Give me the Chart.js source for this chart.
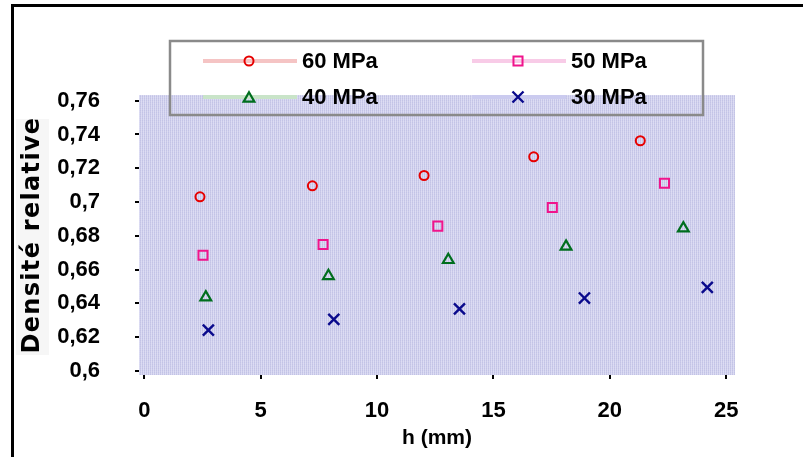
<!DOCTYPE html>
<html><head><meta charset="utf-8">
<script src="https://cdn.jsdelivr.net/npm/chart.js@4"></script>
<style>html,body{margin:0;padding:0;background:#fff;overflow:hidden}canvas{display:block}</style>
</head><body>
<canvas id="c" width="803" height="457"></canvas>
<script>
// ---- data ----
const seriesNames = ['60 MPa', '50 MPa', '40 MPa', '30 MPa'];
const h60 = [2.39, 7.22, 12.02, 16.73, 21.31];
const d60 = [0.7031, 0.7096, 0.7157, 0.7268, 0.7363];
const h50 = [2.52, 7.68, 12.61, 17.53, 22.35];
const d50 = [0.6684, 0.6748, 0.6857, 0.6968, 0.7111];
const h40 = [2.64, 7.91, 13.06, 18.12, 23.16];
const d40 = [0.6435, 0.6562, 0.6657, 0.6736, 0.6844];
const h30 = [2.75, 8.14, 13.54, 18.91, 24.19];
const d30 = [0.6241, 0.6305, 0.6367, 0.6431, 0.6494];
const xTicks = [0, 5, 10, 15, 20, 25];
const yTicks = [0.6, 0.62, 0.64, 0.66, 0.68, 0.7, 0.72, 0.74, 0.76];
const yTickLabels = ['0,6', '0,62', '0,64', '0,66', '0,68', '0,7', '0,72', '0,74', '0,76'];
const xTitle = 'h (mm)';
const yTitle = 'Densité relative';

const pts = (xs, ys) => xs.map((x, i) => ({x: x, y: ys[i]}));

// ---- styles ----
const styles = [
  {color: '#e60000', style: 'circle', r: 4.5, bw: 2, line: '#f5c4c4'},
  {color: '#f0148c', style: 'rect', r: 6.4, bw: 2, line: '#f8cbe7'},
  {color: '#006e1e', style: 'triangle', r: 6.2, bw: 2.2, line: '#c9e4c9'},
  {color: '#0a0a8c', style: 'crossRot', r: 7.8, bw: 2.4, line: '#cbcbef'}
];
const seriesData = [pts(h60, d60), pts(h50, d50), pts(h40, d40), pts(h30, d30)];

// background pattern
const pc = document.createElement('canvas');
pc.width = 2; pc.height = 2;
const pctx = pc.getContext('2d');
pctx.fillStyle = '#c3c3e6'; pctx.fillRect(0, 0, 1, 2);
pctx.fillStyle = '#d9d9f2'; pctx.fillRect(1, 0, 1, 2);
pctx.fillStyle = 'rgba(255,255,255,0.12)'; pctx.fillRect(0, 1, 2, 1);

const bgPlugin = {
  id: 'bg',
  beforeDraw(chart) {
    const ctx = chart.ctx, a = chart.chartArea;
    ctx.save();
    ctx.fillStyle = '#fff';
    ctx.fillRect(0, 0, chart.width, chart.height);
    // outer frame (top & left)
    ctx.fillStyle = '#000';
    ctx.fillRect(11, 4, chart.width - 11, 3);
    ctx.fillRect(11, 4, 3, chart.height - 4);
    // light box behind y title
    ctx.fillStyle = '#f6f6f6';
    ctx.fillRect(16, 119, 33, 236);
    // plot area
    ctx.fillStyle = ctx.createPattern(pc, 'repeat');
    ctx.fillRect(a.left, a.top, a.right - a.left, a.bottom - a.top);
    ctx.restore();
  }
};

const legendPlugin = {
  id: 'customLegend',
  afterDatasetsDraw(chart) {
    const ctx = chart.ctx;
    ctx.save();
    ctx.strokeStyle = '#8a8a8a';
    ctx.lineWidth = 2.5;
    ctx.strokeRect(170, 41, 533, 74);
    const cols = [{l0: 203, l1: 297, m: 249, t: 302}, {l0: 472, l1: 566, m: 518, t: 571}];
    const rows = [61, 97];
    chart.data.datasets.forEach((ds, i) => {
      const c = cols[i % 2], y = rows[Math.floor(i / 2)], s = styles[i];
      ctx.strokeStyle = s.line;
      ctx.lineWidth = 4;
      ctx.beginPath(); ctx.moveTo(c.l0, y); ctx.lineTo(c.l1, y); ctx.stroke();
      ctx.strokeStyle = s.color; ctx.fillStyle = 'rgba(0,0,0,0)';
      ctx.lineWidth = s.bw;
      const yy = s.style === 'triangle' ? y + 1.5 : y;
      Chart.helpers.drawPoint(ctx, {pointStyle: s.style, radius: s.r, borderWidth: s.bw, rotation: 0}, c.m, yy);
      ctx.fillStyle = '#000';
      ctx.font = 'bold 22px "Liberation Sans", Arial, sans-serif';
      ctx.textBaseline = 'middle';
      ctx.textAlign = 'left';
      ctx.fillText(ds.label, c.t, y + 1);
    });
    ctx.restore();
  }
};

new Chart(document.getElementById('c'), {
  type: 'scatter',
  data: {
    datasets: seriesNames.map((n, i) => ({
      label: n,
      data: seriesData[i],
      showLine: false,
      pointStyle: styles[i].style,
      pointRadius: styles[i].r,
      pointHoverRadius: styles[i].r,
      pointBorderWidth: styles[i].bw,
      borderColor: styles[i].color,
      backgroundColor: 'rgba(0,0,0,0)',
      pointBackgroundColor: 'rgba(0,0,0,0)'
    }))
  },
  options: {
    responsive: false,
    animation: false,
    devicePixelRatio: 1,
    layout: {padding: {left: 0, top: 95, right: 68, bottom: 0}},
    plugins: {legend: {display: false}, tooltip: {enabled: false}},
    scales: {
      x: {
        type: 'linear',
        min: -0.23, max: 25.38,
        afterBuildTicks: (sc) => { sc.ticks = xTicks.map(v => ({value: v})); },
        afterFit: (sc) => { sc.height = 82; },
        border: {display: false},
        grid: {drawOnChartArea: false, drawTicks: true, tickLength: 4, color: '#000', lineWidth: 2},
        ticks: {color: '#000', padding: 19, maxRotation: 0,
          font: {family: '"Liberation Sans", Arial, sans-serif', size: 22, weight: 'bold'}},
        title: {display: true, text: xTitle, color: '#000', padding: {top: 0, bottom: 6},
          font: {family: '"Liberation Sans", Arial, sans-serif', size: 21, weight: 'bold'}}
      },
      y: {
        type: 'linear',
        min: 0.5975, max: 0.7634,
        afterBuildTicks: (sc) => { sc.ticks = yTicks.map(v => ({value: v})); },
        afterFit: (sc) => {
          sc.width = 139;
          if (!sc._spacedTitle) {
            const orig = sc.drawTitle.bind(sc);
            sc.drawTitle = function () {
              const ctx = this.ctx;
              const prev = ctx.letterSpacing;
              ctx.letterSpacing = '1.3px';
              orig();
              ctx.letterSpacing = prev || '0px';
            };
            sc._spacedTitle = true;
          }
        },
        border: {display: false},
        grid: {drawOnChartArea: false, drawTicks: true, tickLength: 4, color: '#000', lineWidth: 2},
        ticks: {color: '#000', padding: 35,
          callback: (v) => { const k = yTicks.findIndex(t => Math.abs(t - v) < 1e-9); return k >= 0 ? yTickLabels[k] : ''; },
          font: {family: '"Liberation Sans", Arial, sans-serif', size: 22, weight: 'bold'}},
        title: {display: true, text: yTitle, color: '#000', padding: {top: 18, bottom: 0},
          font: {family: '"DejaVu Sans", Verdana, sans-serif', size: 24, weight: 'bold'}}
      }
    }
  },
  plugins: [bgPlugin, legendPlugin]
});
</script>
</body></html>
